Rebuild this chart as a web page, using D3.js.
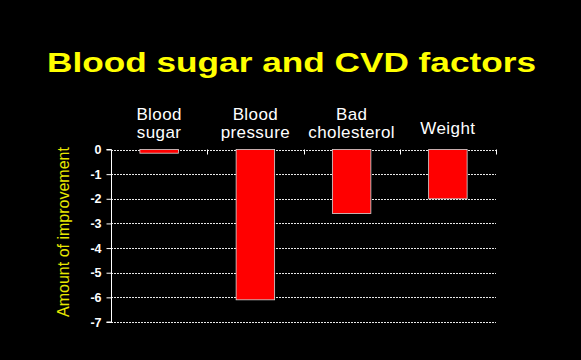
<!DOCTYPE html>
<html><head><meta charset="utf-8">
<script src="https://cdn.jsdelivr.net/npm/d3@7"></script>
<style>html,body{margin:0;padding:0;background:#000;}svg{display:block;}</style>
</head><body>
<svg id="chart" width="581" height="360"></svg>
<script>
const categories = ["Blood sugar", "Blood pressure", "Bad cholesterol", "Weight"];
const categoryLines = [["Blood", "sugar"], ["Blood", "pressure"], ["Bad", "cholesterol"], ["Weight"]];
const values = [-0.15, -6.1, -2.6, -2.0];
const yTicks = [0, -1, -2, -3, -4, -5, -6, -7];
const titleText = "Blood sugar and CVD factors";
const yTitle = "Amount of improvement";

const svg = d3.select("#chart");
svg.append("rect").attr("width", 581).attr("height", 360).attr("fill", "#000");

const m = {left: 111, right: 496, top: 149.5, bottom: 322};
const x = d3.scaleBand().domain(categories).range([m.left, m.right]).paddingInner(0.6).paddingOuter(0.3);
const y = d3.scaleLinear().domain([-7, 0]).range([m.bottom, m.top]);

// title
svg.append("text").attr("x", 291.5).attr("y", 72).attr("text-anchor", "middle")
  .attr("font-family", "Liberation Sans, Arial, sans-serif").attr("font-weight", "bold")
  .attr("font-size", 28).attr("fill", "#ffff00")
  .attr("textLength", 489).attr("lengthAdjust", "spacingAndGlyphs").text(titleText);

// gridlines
svg.append("g").selectAll("line").data(yTicks).join("line")
  .attr("x1", m.left).attr("x2", m.right)
  .attr("y1", d => Math.round(y(d)) + 0.5).attr("y2", d => Math.round(y(d)) + 0.5)
  .attr("stroke", "#e8e8e8").attr("stroke-width", 1).attr("stroke-dasharray", "2,1");

// bars
svg.append("g").selectAll("rect").data(values).join("rect")
  .attr("x", (d, i) => x(categories[i]))
  .attr("width", x.bandwidth())
  .attr("y", d => y(0))
  .attr("height", d => y(d) - y(0))
  .attr("fill", "#ff0000").attr("stroke", "#d8d8d8").attr("stroke-width", 0.8);

// y axis
const yAxis = d3.axisLeft(y).tickValues(yTicks).tickSize(5).tickFormat(d => String(d));
const gy = svg.append("g").attr("transform", `translate(${m.left + 0.5},0)`).call(yAxis);
gy.select(".domain").attr("stroke", "#fff").attr("d", `M-5,${y(-7)}H0V${y(0)}H-5`);
gy.selectAll(".tick line").attr("stroke", "#fff");
gy.selectAll(".tick text").attr("fill", "#fff").attr("font-size", 12.5).attr("font-weight", "bold")
  .attr("font-family", "Liberation Sans, Arial, sans-serif").attr("x", -10);

// x category boundary ticks
const step = x.step();
const bounds = categories.map((c, i) => m.left + step * (i + 1));
svg.append("g").selectAll("line").data(bounds).join("line")
  .attr("x1", d => Math.round(d) + 0.5).attr("x2", d => Math.round(d) + 0.5)
  .attr("y1", y(0)).attr("y2", y(0) + 5).attr("stroke", "#fff");

// category labels
const lab = svg.append("g").attr("font-family", "Liberation Sans, Arial, sans-serif")
  .attr("font-size", 17).attr("letter-spacing", 0.4).attr("fill", "#fff").attr("text-anchor", "middle");
categoryLines.forEach((lines, i) => {
  const cx = x(categories[i]) + x.bandwidth() / 2;
  const t = lab.append("text").attr("x", cx);
  if (lines.length === 1) {
    t.attr("y", 134).text(lines[0]);
  } else {
    t.append("tspan").attr("x", cx).attr("y", 120).text(lines[0]);
    t.append("tspan").attr("x", cx).attr("y", 138).text(lines[1]);
  }
});

// y title
svg.append("text").attr("transform", "translate(69,232) rotate(-90)").attr("text-anchor", "middle")
  .attr("font-family", "Liberation Sans, Arial, sans-serif").attr("font-size", 16)
  .attr("fill", "#e8e800").text(yTitle);
</script>
</body></html>
